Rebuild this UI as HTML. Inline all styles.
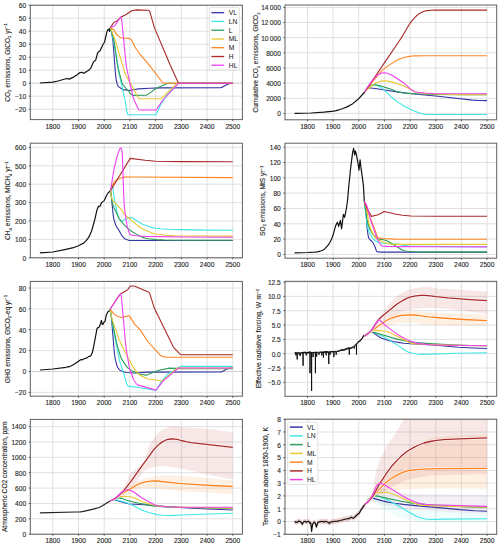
<!DOCTYPE html>
<html><head><meta charset="utf-8"><style>html,body{margin:0;padding:0;background:#fff;width:500px;height:546px;overflow:hidden}svg{display:block}</style></head>
<body>
<svg width="500" height="546" viewBox="0 0 500 546">
<rect width="500" height="546" fill="#fff"/>
<clipPath id="c1"><rect x="30.3" y="5.2" width="212.1" height="114.4"/></clipPath>
<path d="M52.8 5.2 V119.6 M78.5 5.2 V119.6 M104.2 5.2 V119.6 M129.9 5.2 V119.6 M155.6 5.2 V119.6 M181.3 5.2 V119.6 M207.1 5.2 V119.6 M232.8 5.2 V119.6 M30.3 109.2 H242.4 M30.3 96.2 H242.4 M30.3 83.2 H242.4 M30.3 70.2 H242.4 M30.3 57.2 H242.4 M30.3 44.2 H242.4 M30.3 31.2 H242.4 M30.3 18.2 H242.4 M30.3 5.2 H242.4" stroke="#dcdcdc" stroke-width="0.9" fill="none"/>
<path d="M30.3 83.2 H242.4" stroke="#b4b4b4" stroke-width="0.6" stroke-dasharray="1.2 1.0" fill="none"/>
<g clip-path="url(#c1)">
<path d="M39.9 83 L52.8 82.2 L57.9 81 L66.9 78.5 L69.2 79.1 L73.6 77.1 L77.2 74.8 L80 72.5 L81.6 72.3 L83.1 72.9 L84.2 73.2 L86 71.8 L87.5 71 L89.3 69.7 L90.8 68.2 L92.4 64.3 L93.7 61.7 L95.7 60.1 L97.4 53.6 L98.3 52 L100.1 50.7 L102.9 44.7 L104.6 42 L106.8 32.1 L107.8 29.6 L109 29.2 L109.5 31.5 L109.9 29.2 L110.5 27.3" fill="none" stroke="#111" stroke-width="1.2" stroke-linejoin="round" stroke-linecap="butt"/>
<path d="M110.5 27.3 L112.2 36.1 L113 41.7 L113.7 50.5 L115.4 72.9 L115.8 76.9 L116.3 80.3 L117.3 84.2 L118.1 86.1 L118.9 86.9 L122.2 89.3 L123.4 89.6 L129.9 90.5 L138.3 88.9 L150 88.3 L161 87.9 L220.5 87.7 L221.7 87.4 L226.2 84.9 L229.4 83.5 L230.6 83.2 L232.8 83.2" fill="none" stroke="#3535a5" stroke-width="1.1" stroke-linejoin="round" stroke-linecap="butt"/>
<path d="M110.5 27.3 L113.6 41.1 L119.4 74.8 L124.8 99.2 L127.1 112.5 L127.6 114.2 L128.1 114.7 L129 114.8 L154.7 114.8 L155.5 114.7 L155.9 114.6 L156.3 114.2 L156.8 113.3 L161 104.1 L167.2 94.4 L168.4 93.1 L177.4 84.3 L178.1 83.6 L178.8 83.3 L180.1 83.2 L232.8 83.2" fill="none" stroke="#3ee6e6" stroke-width="1.1" stroke-linejoin="round" stroke-linecap="butt"/>
<path d="M110.5 27.3 L113.2 37.3 L114 40.7 L117.3 63.8 L118.1 68.2 L121.8 82.4 L122.5 84 L123.2 85.2 L131 94 L131.9 94.9 L132.4 95.3 L133.7 95.4 L145.5 95.3 L146.5 95.2 L147.5 94.6 L156.3 88.3 L166.6 83.8 L168 83.4 L172 83.2 L232.8 83.2" fill="none" stroke="#2e9e5a" stroke-width="1.1" stroke-linejoin="round" stroke-linecap="butt"/>
<path d="M110.5 27.3 L115.3 40.9 L124.5 71.7 L125.6 74.8 L126.5 76.6 L132.2 86.3 L138 97.5 L138.5 98.3 L139 98.7 L140.1 98.8 L159.4 98.8 L160.9 98.7 L162.1 97.8 L176.1 84.1 L176.8 83.5 L177.5 83.2 L232.8 83.2" fill="none" stroke="#e6c832" stroke-width="1.1" stroke-linejoin="round" stroke-linecap="butt"/>
<path d="M110.5 27.3 L112.8 29 L113.6 29.7 L114.2 30.6 L116.2 33.9 L116.8 34.8 L120.5 37.6 L121.7 38 L129 38.4 L130.3 38.9 L131.3 39.7 L132.1 40.9 L135.1 47.3 L139.6 53.8 L149.5 65.3 L161.7 81.5 L162.3 82.2 L163 82.7 L165.3 83.1 L166.8 83.2 L232.8 83.2" fill="none" stroke="#ff8522" stroke-width="1.1" stroke-linejoin="round" stroke-linecap="butt"/>
<path d="M110.5 27.3 L113 23.6 L113.9 22.5 L114.5 22.1 L116 21.6 L116.7 21.2 L121.1 16.9 L125.7 14.8 L131.7 10.8 L132.9 10.5 L136.9 9.9 L147.9 10.3 L148.8 10.5 L149.5 11.1 L150 12.4 L153.8 25.7 L155.1 29.4 L170.3 65.2 L177.6 81.2 L178.1 82.2 L178.6 82.9 L179.2 83.1 L179.9 83.2 L232.8 83.2" fill="none" stroke="#a82a2a" stroke-width="1.1" stroke-linejoin="round" stroke-linecap="butt"/>
<path d="M110.5 27.3 L113.7 26.3 L114.6 25.7 L115.5 24.6 L120.3 17.5 L120.8 17.2 L121.2 17.7 L121.6 19.5 L122.1 23.6 L125.7 60.6 L126.2 64.8 L126.8 68.6 L129.7 82 L133.3 97.8 L134.2 100.2 L137.8 108 L138.4 109.2 L139 109.8 L140.1 110 L154.7 110 L155.5 109.9 L156 109.8 L156.9 108.8 L161.8 101.5 L163 100 L177.5 84.3 L178.3 83.6 L178.9 83.3 L232.8 83.2" fill="none" stroke="#f040f0" stroke-width="1.1" stroke-linejoin="round" stroke-linecap="butt"/>
</g>
<rect x="30.3" y="5.2" width="212.1" height="114.4" fill="none" stroke="#606060" stroke-width="1"/>
<path d="M52.8 119.6 v1.6 M78.5 119.6 v1.6 M104.2 119.6 v1.6 M129.9 119.6 v1.6 M155.6 119.6 v1.6 M181.3 119.6 v1.6 M207.1 119.6 v1.6 M232.8 119.6 v1.6 M30.3 109.2 h-1.6 M30.3 96.2 h-1.6 M30.3 83.2 h-1.6 M30.3 70.2 h-1.6 M30.3 57.2 h-1.6 M30.3 44.2 h-1.6 M30.3 31.2 h-1.6 M30.3 18.2 h-1.6 M30.3 5.2 h-1.6" stroke="#3a3a3a" stroke-width="0.8" fill="none"/>
<g font-family='"Liberation Sans", sans-serif' font-size="6.6" fill="#262626" stroke="#262626" stroke-width="0.12">
<text x="52.8" y="128.5" text-anchor="middle">1800</text>
<text x="78.5" y="128.5" text-anchor="middle">1900</text>
<text x="104.2" y="128.5" text-anchor="middle">2000</text>
<text x="129.9" y="128.5" text-anchor="middle">2100</text>
<text x="155.6" y="128.5" text-anchor="middle">2200</text>
<text x="181.3" y="128.5" text-anchor="middle">2300</text>
<text x="207.1" y="128.5" text-anchor="middle">2400</text>
<text x="232.8" y="128.5" text-anchor="middle">2500</text>
<text x="26.1" y="112" text-anchor="end">−20</text>
<text x="26.1" y="99" text-anchor="end">−10</text>
<text x="26.1" y="86" text-anchor="end">0</text>
<text x="26.1" y="73" text-anchor="end">10</text>
<text x="26.1" y="60" text-anchor="end">20</text>
<text x="26.1" y="47" text-anchor="end">30</text>
<text x="26.1" y="34" text-anchor="end">40</text>
<text x="26.1" y="21" text-anchor="end">50</text>
<text x="26.1" y="8" text-anchor="end">60</text>
</g>
<text transform="translate(9.6 62.6) rotate(-90)" text-anchor="middle" font-family='"Liberation Sans", sans-serif' font-size="6.7" fill="#262626" stroke="#262626" stroke-width="0.12" textLength="78.4" lengthAdjust="spacingAndGlyphs">CO<tspan font-size="4.3" dy="1.2">2</tspan><tspan dy="-1.2"> </tspan>emissions, GtCO<tspan font-size="4.3" dy="1.2">2</tspan><tspan dy="-1.2"> </tspan>yr<tspan font-size="4.3" dy="-2.2">−1</tspan></text>
<rect x="209.4" y="7.4" width="30.1" height="62.6" rx="1.5" fill="#fff" fill-opacity="0.85" stroke="#d8d8d8" stroke-width="0.7"/>
<path d="M211.4 12.7 H224.2" stroke="#3535a5" stroke-width="1.3"/>
<text x="228.8" y="15.1" font-family='"Liberation Sans", sans-serif' font-size="6.7" fill="#262626" stroke="#262626" stroke-width="0.05">VL</text>
<path d="M211.4 21.4 H224.2" stroke="#3ee6e6" stroke-width="1.3"/>
<text x="228.8" y="23.8" font-family='"Liberation Sans", sans-serif' font-size="6.7" fill="#262626" stroke="#262626" stroke-width="0.05">LN</text>
<path d="M211.4 30.2 H224.2" stroke="#2e9e5a" stroke-width="1.3"/>
<text x="228.8" y="32.6" font-family='"Liberation Sans", sans-serif' font-size="6.7" fill="#262626" stroke="#262626" stroke-width="0.05">L</text>
<path d="M211.4 39 H224.2" stroke="#e6c832" stroke-width="1.3"/>
<text x="228.8" y="41.4" font-family='"Liberation Sans", sans-serif' font-size="6.7" fill="#262626" stroke="#262626" stroke-width="0.05">ML</text>
<path d="M211.4 47.7 H224.2" stroke="#ff8522" stroke-width="1.3"/>
<text x="228.8" y="50.1" font-family='"Liberation Sans", sans-serif' font-size="6.7" fill="#262626" stroke="#262626" stroke-width="0.05">M</text>
<path d="M211.4 56.5 H224.2" stroke="#a82a2a" stroke-width="1.3"/>
<text x="228.8" y="58.9" font-family='"Liberation Sans", sans-serif' font-size="6.7" fill="#262626" stroke="#262626" stroke-width="0.05">H</text>
<path d="M211.4 65.2 H224.2" stroke="#f040f0" stroke-width="1.3"/>
<text x="228.8" y="67.6" font-family='"Liberation Sans", sans-serif' font-size="6.7" fill="#262626" stroke="#262626" stroke-width="0.05">HL</text>
<clipPath id="c2"><rect x="285" y="5" width="211.7" height="114.8"/></clipPath>
<path d="M307.5 5 V119.8 M333.1 5 V119.8 M358.8 5 V119.8 M384.4 5 V119.8 M410.1 5 V119.8 M435.8 5 V119.8 M461.4 5 V119.8 M487.1 5 V119.8 M285 113.4 H496.7 M285 98.3 H496.7 M285 83.1 H496.7 M285 68 H496.7 M285 52.8 H496.7 M285 37.7 H496.7 M285 22.5 H496.7 M285 7.4 H496.7" stroke="#dcdcdc" stroke-width="0.9" fill="none"/>
<g clip-path="url(#c2)">
<path d="M294.6 113.4 L311 113 L323.9 112.2 L329 111.7 L333.4 111.2 L336.2 110.6 L339 109.8 L342.9 108.5 L347 106.9 L349.5 105.6 L352.4 103.9 L355.7 101.3 L358.5 98.9 L364.7 92" fill="none" stroke="#111" stroke-width="1.2" stroke-linejoin="round" stroke-linecap="butt"/>
<path d="M364.7 92 L366.5 89.8 L368 88.5 L369.3 88 L370.8 88 L377 88.8 L386.2 90.3 L398.5 92.1 L411.4 93.7 L438.1 96.2 L472.7 100.1 L477.6 100.4 L487.1 100.6" fill="none" stroke="#3535a5" stroke-width="1.1" stroke-linejoin="round" stroke-linecap="butt"/>
<path d="M364.7 92 L366.2 89.3 L367.2 87.8 L368.3 86.6 L369 86 L371.3 85.3 L373.7 84.9 L375.2 85 L377 85.6 L380.1 86.9 L382.4 88.4 L384.9 90.6 L391.1 96.7 L393.7 99 L399.1 102.9 L403.9 106 L408.6 108.6 L414.2 111 L419.6 113 L423.7 114 L426.5 114.4 L434 114.5 L487.1 114.5" fill="none" stroke="#3ee6e6" stroke-width="1.1" stroke-linejoin="round" stroke-linecap="butt"/>
<path d="M364.7 92 L367.8 88.5 L370.1 86.5 L371.3 85.6 L372.4 85.1 L373.4 84.9 L374.4 84.8 L377 85.1 L380.1 85.8 L389.1 88.6 L396.2 91.2 L399.3 92.1 L402.1 92.7 L406.2 93.1 L416.5 93.8 L433.4 94.4 L459.9 94.7 L487.1 94.8" fill="none" stroke="#2e9e5a" stroke-width="1.1" stroke-linejoin="round" stroke-linecap="butt"/>
<path d="M364.7 92 L367.5 89.3 L370.3 86.8 L372.9 84.9 L375.5 83.3 L377.8 82.2 L380.1 81.3 L382.4 80.9 L384.4 80.8 L387.8 81.1 L391.6 81.9 L395.5 83.1 L403.2 85.7 L406.2 87 L414.5 91.5 L416.8 92.3 L418.8 92.8 L426.5 93.6 L434.7 94 L461.7 94.6 L487.1 94.8" fill="none" stroke="#e6c832" stroke-width="1.1" stroke-linejoin="round" stroke-linecap="butt"/>
<path d="M364.7 92 L369 86.1 L373.4 80.6 L379.3 73.6 L382.6 70.1 L386.5 66.9 L390.6 64.1 L397.5 60 L399.8 58.9 L402.1 58 L406.2 57 L409.6 56.4 L412.4 56 L415.5 55.9 L425 55.7 L487.1 55.7" fill="none" stroke="#ff8522" stroke-width="1.1" stroke-linejoin="round" stroke-linecap="butt"/>
<path d="M364.7 92 L383.7 63.9 L399.1 41.3 L403.4 34.6 L408 26.4 L410.1 23.2 L412.7 19.9 L415 17.3 L416.8 15.5 L418.6 14.1 L422.2 12.1 L425 11 L426.8 10.6 L431.4 10.2 L435 10.1 L487.1 10.1" fill="none" stroke="#a82a2a" stroke-width="1.1" stroke-linejoin="round" stroke-linecap="butt"/>
<path d="M364.7 92 L367.5 87.3 L370.1 83.4 L372.6 80.1 L375.2 77.3 L377.5 75.3 L379.8 73.8 L382.1 73 L384.2 72.8 L386.2 73 L388.5 73.7 L390.9 74.7 L393.7 76.3 L404.2 83.3 L406 84.8 L410.4 88.9 L412.1 90.3 L413.9 91.4 L415.5 92 L424.2 93 L433.2 93.5 L487.1 93.7" fill="none" stroke="#f040f0" stroke-width="1.1" stroke-linejoin="round" stroke-linecap="butt"/>
</g>
<rect x="285" y="5" width="211.7" height="114.8" fill="none" stroke="#606060" stroke-width="1"/>
<path d="M307.5 119.8 v1.6 M333.1 119.8 v1.6 M358.8 119.8 v1.6 M384.4 119.8 v1.6 M410.1 119.8 v1.6 M435.8 119.8 v1.6 M461.4 119.8 v1.6 M487.1 119.8 v1.6 M285 113.4 h-1.6 M285 98.3 h-1.6 M285 83.1 h-1.6 M285 68 h-1.6 M285 52.8 h-1.6 M285 37.7 h-1.6 M285 22.5 h-1.6 M285 7.4 h-1.6" stroke="#3a3a3a" stroke-width="0.8" fill="none"/>
<g font-family='"Liberation Sans", sans-serif' font-size="6.6" fill="#262626" stroke="#262626" stroke-width="0.12">
<text x="307.5" y="128.7" text-anchor="middle">1800</text>
<text x="333.1" y="128.7" text-anchor="middle">1900</text>
<text x="358.8" y="128.7" text-anchor="middle">2000</text>
<text x="384.4" y="128.7" text-anchor="middle">2100</text>
<text x="410.1" y="128.7" text-anchor="middle">2200</text>
<text x="435.8" y="128.7" text-anchor="middle">2300</text>
<text x="461.4" y="128.7" text-anchor="middle">2400</text>
<text x="487.1" y="128.7" text-anchor="middle">2500</text>
<text x="280.8" y="116.2" text-anchor="end">0</text>
<text x="280.8" y="101.1" text-anchor="end">2000</text>
<text x="280.8" y="85.9" text-anchor="end">4000</text>
<text x="280.8" y="70.8" text-anchor="end">6000</text>
<text x="280.8" y="55.6" text-anchor="end">8000</text>
<text x="280.8" y="40.5" text-anchor="end">10 000</text>
<text x="280.8" y="25.3" text-anchor="end">12 000</text>
<text x="280.8" y="10.2" text-anchor="end">14 000</text>
</g>
<text transform="translate(258.3 62.5) rotate(-90)" text-anchor="middle" font-family='"Liberation Sans", sans-serif' font-size="6.7" fill="#262626" stroke="#262626" stroke-width="0.12" textLength="100" lengthAdjust="spacingAndGlyphs">Cumulative CO<tspan font-size="4.3" dy="1.2">2</tspan><tspan dy="-1.2"> </tspan>emissions, GtCO<tspan font-size="4.3" dy="1.2">2</tspan></text>
<clipPath id="c3"><rect x="30.3" y="143.2" width="212.1" height="114.6"/></clipPath>
<path d="M52.8 143.2 V257.8 M78.5 143.2 V257.8 M104.2 143.2 V257.8 M129.9 143.2 V257.8 M155.6 143.2 V257.8 M181.3 143.2 V257.8 M207.1 143.2 V257.8 M232.8 143.2 V257.8 M30.3 257.8 H242.4 M30.3 239.4 H242.4 M30.3 221 H242.4 M30.3 202.6 H242.4 M30.3 184.2 H242.4 M30.3 165.8 H242.4 M30.3 147.4 H242.4" stroke="#dcdcdc" stroke-width="0.9" fill="none"/>
<g clip-path="url(#c3)">
<path d="M39.9 252.9 L52.8 252 L65.9 249.3 L73.4 247.7 L79 245.5 L83.6 243.1 L86 240.9 L88.8 237.2 L91.4 231.5 L92.9 226.5 L95.1 218.4 L96.9 210.1 L97.8 207.8 L98.7 206.1 L99.3 206.6 L100.1 206.1 L100.9 204.1 L101.9 202.4 L104.2 200.6 L105.2 198.6 L106 196.5 L107.9 193.2 L110.6 190.5" fill="none" stroke="#111" stroke-width="1.2" stroke-linejoin="round" stroke-linecap="butt"/>
<path d="M110.6 190.5 L111.6 199.3 L113.2 215.1 L113.9 219.2 L115 223 L116.2 226.2 L119.1 230.4 L121.9 235.7 L122.7 236.7 L124.2 238.2 L125.2 239 L126.3 239.5 L128.1 240.1 L129.6 240.4 L232.8 240.5" fill="none" stroke="#3535a5" stroke-width="1.1" stroke-linejoin="round" stroke-linecap="butt"/>
<path d="M110.6 190.5 L111.1 188.2 L111.6 187 L112.1 186.5 L112.7 186.4 L112.9 187 L114 197.1 L117.8 215.3 L118.3 217.1 L118.8 218.3 L120.4 220.4 L121.4 221.1 L121.9 221.2 L122.7 220.9 L124.7 219.5 L128.1 217.8 L129.4 217.5 L130.9 217.6 L132.4 218.1 L134.2 219 L140.2 222.9 L142 223.9 L146.1 225.6 L150.2 227 L153.3 227.9 L155.6 228.3 L160 228.7 L169.2 229.3 L179.5 229.6 L207.5 230.1 L232.8 230.2" fill="none" stroke="#3ee6e6" stroke-width="1.1" stroke-linejoin="round" stroke-linecap="butt"/>
<path d="M110.6 190.5 L111.9 200.1 L112.4 202.8 L113.2 205.4 L114.2 208.1 L117.8 215.7 L119.1 218.2 L120.4 220.2 L122.2 222.6 L124.2 224.9 L127 227.7 L129.6 229.9 L131.9 231.5 L136.8 234.4 L139.9 236.1 L142.7 237.4 L145.6 238.3 L148.1 238.8 L156.4 239.6 L164.1 240 L188.7 240.2 L232.8 240.3" fill="none" stroke="#2e9e5a" stroke-width="1.1" stroke-linejoin="round" stroke-linecap="butt"/>
<path d="M110.6 190.5 L111.4 197.3 L112.4 199.7 L113.4 201.1 L115 202.6 L116.5 204.4 L121.1 209.4 L122.2 210.8 L124.2 214.3 L125 215.2 L126.3 216.3 L129.9 218.8 L137.1 225.1 L139.9 227.2 L141.4 228.2 L145.6 230.3 L150.7 232.6 L154 233.7 L157.1 234.2 L166.1 235.2 L174.6 235.8 L191.6 236 L232.8 236.1" fill="none" stroke="#e6c832" stroke-width="1.1" stroke-linejoin="round" stroke-linecap="butt"/>
<path d="M110.6 190.5 L112.9 184.4 L113.9 182.5 L115 181.2 L116.8 179.8 L118.6 178.9 L122.2 177.6 L124.7 177.1 L131.9 177 L232.8 177.6" fill="none" stroke="#ff8522" stroke-width="1.1" stroke-linejoin="round" stroke-linecap="butt"/>
<path d="M110.6 190.5 L130.2 158.4 L145.3 160.3 L155.6 161.2 L181.3 161.6 L232.8 161.8" fill="none" stroke="#a82a2a" stroke-width="1.1" stroke-linejoin="round" stroke-linecap="butt"/>
<path d="M110.6 190.5 L113.2 173.8 L114.2 168.5 L116 160.5 L117.3 155.6 L118.3 152.6 L119.8 149 L120.4 148.2 L120.9 148 L121.1 148.2 L121.6 149.6 L122 150.7 L122.2 152.5 L122.7 163.6 L123.7 194.9 L124.1 203 L124.7 209.8 L125.8 218.1 L127 225.2 L128.3 230.2 L129.4 233.1 L130.1 234.6 L130.4 234.8 L131.9 235.1 L136.3 235.8 L140.4 236.2 L145.6 236.4 L186.7 237 L232.8 237.2" fill="none" stroke="#f040f0" stroke-width="1.1" stroke-linejoin="round" stroke-linecap="butt"/>
</g>
<rect x="30.3" y="143.2" width="212.1" height="114.6" fill="none" stroke="#606060" stroke-width="1"/>
<path d="M52.8 257.8 v1.6 M78.5 257.8 v1.6 M104.2 257.8 v1.6 M129.9 257.8 v1.6 M155.6 257.8 v1.6 M181.3 257.8 v1.6 M207.1 257.8 v1.6 M232.8 257.8 v1.6 M30.3 257.8 h-1.6 M30.3 239.4 h-1.6 M30.3 221 h-1.6 M30.3 202.6 h-1.6 M30.3 184.2 h-1.6 M30.3 165.8 h-1.6 M30.3 147.4 h-1.6" stroke="#3a3a3a" stroke-width="0.8" fill="none"/>
<g font-family='"Liberation Sans", sans-serif' font-size="6.6" fill="#262626" stroke="#262626" stroke-width="0.12">
<text x="52.8" y="266.7" text-anchor="middle">1800</text>
<text x="78.5" y="266.7" text-anchor="middle">1900</text>
<text x="104.2" y="266.7" text-anchor="middle">2000</text>
<text x="129.9" y="266.7" text-anchor="middle">2100</text>
<text x="155.6" y="266.7" text-anchor="middle">2200</text>
<text x="181.3" y="266.7" text-anchor="middle">2300</text>
<text x="207.1" y="266.7" text-anchor="middle">2400</text>
<text x="232.8" y="266.7" text-anchor="middle">2500</text>
<text x="26.1" y="260.6" text-anchor="end">0</text>
<text x="26.1" y="242.2" text-anchor="end">100</text>
<text x="26.1" y="223.8" text-anchor="end">200</text>
<text x="26.1" y="205.4" text-anchor="end">300</text>
<text x="26.1" y="187" text-anchor="end">400</text>
<text x="26.1" y="168.6" text-anchor="end">500</text>
<text x="26.1" y="150.2" text-anchor="end">600</text>
</g>
<text transform="translate(10.4 200.7) rotate(-90)" text-anchor="middle" font-family='"Liberation Sans", sans-serif' font-size="6.7" fill="#262626" stroke="#262626" stroke-width="0.12" textLength="78.8" lengthAdjust="spacingAndGlyphs">CH<tspan font-size="4.3" dy="1.2">4</tspan><tspan dy="-1.2"> </tspan>emissions, MtCH<tspan font-size="4.3" dy="1.2">4</tspan><tspan dy="-1.2"> </tspan>yr<tspan font-size="4.3" dy="-2.2">−1</tspan></text>
<clipPath id="c4"><rect x="285" y="143.2" width="211.7" height="115"/></clipPath>
<path d="M307.5 143.2 V258.2 M333.1 143.2 V258.2 M358.8 143.2 V258.2 M384.4 143.2 V258.2 M410.1 143.2 V258.2 M435.8 143.2 V258.2 M461.4 143.2 V258.2 M487.1 143.2 V258.2 M285 254.4 H496.7 M285 239.1 H496.7 M285 223.8 H496.7 M285 208.5 H496.7 M285 193.1 H496.7 M285 177.8 H496.7 M285 162.5 H496.7 M285 147.2 H496.7" stroke="#dcdcdc" stroke-width="0.9" fill="none"/>
<g clip-path="url(#c4)">
<path d="M294.6 252.8 L308 252.5 L314.6 252.1 L317.2 251.8 L319.3 251.4 L321.3 250.8 L322.8 250.2 L323.9 249.5 L324.9 248.6 L327.5 245.9 L329 243.8 L330.5 241.2 L331.6 239 L332.6 236.3 L334.1 231.3 L335.6 225.8 L337.4 222.2 L338.6 226.4 L340.4 220.4 L341.6 228.8 L343.4 214.4 L344.6 217.4 L346.4 208.5 L347.6 200 L348.5 189.3 L350.6 168.3 L352.6 152.6 L353.6 148.3 L354.7 154.9 L355.4 151 L356 152.6 L358 163.3 L359 170.2 L360.1 159.8 L360.8 166.3 L363.4 185.1 L364.3 201.6" fill="none" stroke="#111" stroke-width="1.2" stroke-linejoin="round" stroke-linecap="butt"/>
<path d="M364.3 201.6 L364.5 202.1 L365.1 204.6 L366 211.5 L367.1 228 L367.9 234.1 L368.4 237 L368.9 238.3 L369.7 239.5 L372 241.5 L373.3 243.3 L374.8 246.3 L376.4 250.7 L376.6 251.2 L377 251.6 L378.7 251.9 L380.6 252.1 L487.1 252.1" fill="none" stroke="#3535a5" stroke-width="1.1" stroke-linejoin="round" stroke-linecap="butt"/>
<path d="M364.3 201.6 L365.6 213.1 L366.6 221 L367.6 226.9 L368.4 229.8 L369.2 231.9 L370.2 234.2 L372 237.2 L373.5 239 L375.1 240.5 L376.6 241.6 L377.9 242.3 L380.2 242.9 L382.5 243.3 L395.9 244 L398.7 244.4 L406.1 245.6 L409.7 246 L445.6 246.6 L487.1 246.7" fill="none" stroke="#3ee6e6" stroke-width="1.1" stroke-linejoin="round" stroke-linecap="butt"/>
<path d="M364.3 201.6 L366.6 216.5 L367.6 222 L368.4 225.3 L369.2 227.6 L370.4 230.2 L372.2 233.3 L373.8 235.5 L375.6 237.4 L377.4 238.6 L378.4 239.1 L379.4 239.3 L384.7 240 L386.9 240.8 L389.2 242 L401 249.2 L403.6 250.5 L405.3 251 L407.7 251.3 L414.1 251.8 L420.2 252.1 L487.1 252.1" fill="none" stroke="#2e9e5a" stroke-width="1.1" stroke-linejoin="round" stroke-linecap="butt"/>
<path d="M364.3 201.6 L365.3 204.1 L366.3 207.8 L368.4 220.6 L369.2 224.3 L370.7 228.6 L372.2 232.3 L374.3 236.1 L375.3 237.5 L376.4 238.6 L377.6 239.5 L379.4 240.6 L383 242.1 L385.8 243 L390 243.9 L392.5 244.3 L394.6 244.4 L487.1 244.4" fill="none" stroke="#e6c832" stroke-width="1.1" stroke-linejoin="round" stroke-linecap="butt"/>
<path d="M364.3 201.6 L368.4 213.2 L374.6 229 L376.6 234.9 L377.6 237.1 L378.1 237.7 L378.5 237.9 L382.8 238.5 L394.6 239.1 L487.1 239.2" fill="none" stroke="#ff8522" stroke-width="1.1" stroke-linejoin="round" stroke-linecap="butt"/>
<path d="M364.3 201.6 L367.8 210 L371.5 216.4 L378.1 214.8 L384.4 211.5 L395 214 L402.4 215.3 L410.9 216 L435.8 216.3 L487.1 216.3" fill="none" stroke="#a82a2a" stroke-width="1.1" stroke-linejoin="round" stroke-linecap="butt"/>
<path d="M364.3 201.6 L365.1 202.4 L365.8 203.6 L366.9 206 L367.9 209.2 L371.2 221.6 L374.6 231.6 L376.4 236.5 L377.9 240 L379.9 243.6 L381 245.1 L382 246 L383.5 246.2 L388.2 246.4 L401.5 246.6 L442.6 246.8 L487.1 246.9" fill="none" stroke="#f040f0" stroke-width="1.1" stroke-linejoin="round" stroke-linecap="butt"/>
</g>
<rect x="285" y="143.2" width="211.7" height="115" fill="none" stroke="#606060" stroke-width="1"/>
<path d="M307.5 258.2 v1.6 M333.1 258.2 v1.6 M358.8 258.2 v1.6 M384.4 258.2 v1.6 M410.1 258.2 v1.6 M435.8 258.2 v1.6 M461.4 258.2 v1.6 M487.1 258.2 v1.6 M285 254.4 h-1.6 M285 239.1 h-1.6 M285 223.8 h-1.6 M285 208.5 h-1.6 M285 193.1 h-1.6 M285 177.8 h-1.6 M285 162.5 h-1.6 M285 147.2 h-1.6" stroke="#3a3a3a" stroke-width="0.8" fill="none"/>
<g font-family='"Liberation Sans", sans-serif' font-size="6.6" fill="#262626" stroke="#262626" stroke-width="0.12">
<text x="307.5" y="267.1" text-anchor="middle">1800</text>
<text x="333.1" y="267.1" text-anchor="middle">1900</text>
<text x="358.8" y="267.1" text-anchor="middle">2000</text>
<text x="384.4" y="267.1" text-anchor="middle">2100</text>
<text x="410.1" y="267.1" text-anchor="middle">2200</text>
<text x="435.8" y="267.1" text-anchor="middle">2300</text>
<text x="461.4" y="267.1" text-anchor="middle">2400</text>
<text x="487.1" y="267.1" text-anchor="middle">2500</text>
<text x="280.8" y="257.2" text-anchor="end">0</text>
<text x="280.8" y="241.9" text-anchor="end">20</text>
<text x="280.8" y="226.6" text-anchor="end">40</text>
<text x="280.8" y="211.3" text-anchor="end">60</text>
<text x="280.8" y="195.9" text-anchor="end">80</text>
<text x="280.8" y="180.6" text-anchor="end">100</text>
<text x="280.8" y="165.3" text-anchor="end">120</text>
<text x="280.8" y="150" text-anchor="end">140</text>
</g>
<text transform="translate(265 200.8) rotate(-90)" text-anchor="middle" font-family='"Liberation Sans", sans-serif' font-size="6.7" fill="#262626" stroke="#262626" stroke-width="0.12" textLength="70.3" lengthAdjust="spacingAndGlyphs">SO<tspan font-size="4.3" dy="1.2">2</tspan><tspan dy="-1.2"> </tspan>emissions, MtS yr<tspan font-size="4.3" dy="-2.2">−1</tspan></text>
<clipPath id="c5"><rect x="30.3" y="281.4" width="212.1" height="114.8"/></clipPath>
<path d="M52.8 281.4 V396.2 M78.5 281.4 V396.2 M104.2 281.4 V396.2 M129.9 281.4 V396.2 M155.6 281.4 V396.2 M181.3 281.4 V396.2 M207.1 281.4 V396.2 M232.8 281.4 V396.2 M30.3 392.4 H242.4 M30.3 371.5 H242.4 M30.3 350.6 H242.4 M30.3 329.7 H242.4 M30.3 308.9 H242.4 M30.3 288 H242.4" stroke="#dcdcdc" stroke-width="0.9" fill="none"/>
<path d="M30.3 371.5 H242.4" stroke="#b4b4b4" stroke-width="0.6" stroke-dasharray="1.2 1.0" fill="none"/>
<g clip-path="url(#c5)">
<path d="M39.9 370 L52.8 369 L65.9 367.3 L67.7 366.7 L68.7 366.9 L70.3 366.3 L73.4 364.7 L75.9 363.1 L81.1 359.5 L82.4 359.8 L83.6 359 L87 357.9 L88.8 356.4 L90.1 356.4 L91.4 354.8 L92.4 352.2 L93.4 348 L97 328.7 L97.8 327.7 L98.6 327.7 L99.8 325.6 L100.6 323.5 L101.4 320.3 L102.2 324.5 L102.9 324.5 L103.7 322.4 L105 321.4 L106.3 315.1 L108.1 311.5 L109.4 310.9 L110.1 309.4" fill="none" stroke="#111" stroke-width="1.2" stroke-linejoin="round" stroke-linecap="butt"/>
<path d="M110.1 309.2 L111.2 316.4 L111.7 321 L114 348.8 L114.5 353.9 L115 357.5 L116.2 363.1 L117.1 366.1 L117.7 367.3 L119.1 369.4 L119.8 370.1 L120.4 370.5 L125.7 372.5 L134.8 373 L148.7 372.1 L220.5 372 L221.3 371.9 L222 371.7 L227.2 368.8 L232.8 367.8" fill="none" stroke="#3535a5" stroke-width="1.1" stroke-linejoin="round" stroke-linecap="butt"/>
<path d="M110.1 309.2 L111.9 320.8 L115.4 340.1 L119.4 360 L120.2 362.9 L122.7 370.7 L126.6 383.2 L127.4 385.2 L127.7 385.8 L128.1 386.1 L140.2 387.7 L155 390.1 L155.9 390.1 L156.3 389.8 L156.8 389.1 L161 382.1 L167.3 374.7 L168.5 373.8 L179 367.2 L179.9 366.7 L180.6 366.4 L232.8 366.4" fill="none" stroke="#3ee6e6" stroke-width="1.1" stroke-linejoin="round" stroke-linecap="butt"/>
<path d="M110.1 309.2 L112.1 320.8 L116.4 342.2 L117.6 346.6 L120.9 357.6 L122.1 359.9 L127 367.1 L128.1 368.1 L133.3 371.6 L139.9 374.3 L146.4 375.1 L147.5 374.8 L157.9 370.5 L169.3 368.1 L181.9 368.6 L232.8 368.8" fill="none" stroke="#2e9e5a" stroke-width="1.1" stroke-linejoin="round" stroke-linecap="butt"/>
<path d="M110.1 309.2 L111.5 316.7 L112.3 319.9 L119.1 339.4 L120.4 342.4 L128.4 358.4 L134.3 368.9 L135.7 370.9 L139.2 374.5 L140.1 375.2 L146.9 378.6 L148 379.1 L149.1 379.3 L161.4 380.8 L162.6 380.7 L163.7 379.9 L176.5 368.7 L177.1 368.3 L177.7 368.1 L232.8 368" fill="none" stroke="#e6c832" stroke-width="1.1" stroke-linejoin="round" stroke-linecap="butt"/>
<path d="M110.1 309.2 L113.9 313.8 L116.2 315.7 L117.3 316.3 L121.1 317.3 L122 317.4 L122.9 317.3 L128.4 315.9 L128.9 315.9 L129.4 316.1 L130.2 317.1 L134.6 324.1 L139.3 328.8 L140.2 329.9 L147.7 341.5 L159.9 354.8 L160.6 355.6 L161.3 356 L165.3 357.1 L166.7 357.3 L232.8 357.3" fill="none" stroke="#ff8522" stroke-width="1.1" stroke-linejoin="round" stroke-linecap="butt"/>
<path d="M110.1 309.2 L116.6 299.2 L120.4 294.1 L121.3 293.4 L127.2 290.1 L128 289.3 L129.7 286.8 L130.4 286.1 L131.1 286 L133.5 286 L134.9 286.3 L148.3 292 L148.9 292.4 L149.3 292.8 L150.1 294.6 L153.7 306.2 L154.9 309.3 L172.6 345.6 L173.4 347 L174 347.8 L180.3 354.4 L181 354.7 L181.9 354.8 L232.8 354.8" fill="none" stroke="#a82a2a" stroke-width="1.1" stroke-linejoin="round" stroke-linecap="butt"/>
<path d="M110.1 309.2 L119.9 294.5 L120.4 294 L120.7 294.1 L120.8 294.3 L121.2 296 L121.7 300.3 L125.6 343.9 L126.5 350.5 L128.8 364.7 L129.3 367.2 L129.9 369.5 L133.4 379.3 L134.2 380.7 L136.2 383.5 L137 384.4 L137.6 384.9 L154.9 389.9 L155.5 390.1 L156 390 L156.9 389.2 L161.8 382.6 L163 381.2 L177.5 368.8 L178.3 368.3 L178.9 368 L232.8 368" fill="none" stroke="#f040f0" stroke-width="1.1" stroke-linejoin="round" stroke-linecap="butt"/>
</g>
<rect x="30.3" y="281.4" width="212.1" height="114.8" fill="none" stroke="#606060" stroke-width="1"/>
<path d="M52.8 396.2 v1.6 M78.5 396.2 v1.6 M104.2 396.2 v1.6 M129.9 396.2 v1.6 M155.6 396.2 v1.6 M181.3 396.2 v1.6 M207.1 396.2 v1.6 M232.8 396.2 v1.6 M30.3 392.4 h-1.6 M30.3 371.5 h-1.6 M30.3 350.6 h-1.6 M30.3 329.7 h-1.6 M30.3 308.9 h-1.6 M30.3 288 h-1.6" stroke="#3a3a3a" stroke-width="0.8" fill="none"/>
<g font-family='"Liberation Sans", sans-serif' font-size="6.6" fill="#262626" stroke="#262626" stroke-width="0.12">
<text x="52.8" y="405.1" text-anchor="middle">1800</text>
<text x="78.5" y="405.1" text-anchor="middle">1900</text>
<text x="104.2" y="405.1" text-anchor="middle">2000</text>
<text x="129.9" y="405.1" text-anchor="middle">2100</text>
<text x="155.6" y="405.1" text-anchor="middle">2200</text>
<text x="181.3" y="405.1" text-anchor="middle">2300</text>
<text x="207.1" y="405.1" text-anchor="middle">2400</text>
<text x="232.8" y="405.1" text-anchor="middle">2500</text>
<text x="26.1" y="395.2" text-anchor="end">−20</text>
<text x="26.1" y="374.3" text-anchor="end">0</text>
<text x="26.1" y="353.4" text-anchor="end">20</text>
<text x="26.1" y="332.5" text-anchor="end">40</text>
<text x="26.1" y="311.7" text-anchor="end">60</text>
<text x="26.1" y="290.8" text-anchor="end">80</text>
</g>
<text transform="translate(9.6 339) rotate(-90)" text-anchor="middle" font-family='"Liberation Sans", sans-serif' font-size="6.7" fill="#262626" stroke="#262626" stroke-width="0.12" textLength="88.1" lengthAdjust="spacingAndGlyphs">GHG emissions, GtCO<tspan font-size="4.3" dy="1.2">2</tspan><tspan dy="-1.2">-eq yr</tspan><tspan font-size="4.3" dy="-2.2">−1</tspan></text>
<clipPath id="c6"><rect x="285" y="281.3" width="211.7" height="115"/></clipPath>
<path d="M307.5 281.3 V396.3 M333.1 281.3 V396.3 M358.8 281.3 V396.3 M384.4 281.3 V396.3 M410.1 281.3 V396.3 M435.8 281.3 V396.3 M461.4 281.3 V396.3 M487.1 281.3 V396.3 M285 382.3 H496.7 M285 368 H496.7 M285 353.7 H496.7 M285 339.4 H496.7 M285 325 H496.7 M285 310.7 H496.7 M285 296.4 H496.7 M285 282.1 H496.7" stroke="#dcdcdc" stroke-width="0.9" fill="none"/>
<g clip-path="url(#c6)">
<path d="M369 331.4 L374.4 323.5 L379.6 316.5 L390.1 303.1 L393.9 298.7 L396.8 296.2 L400.1 294 L405 291.4 L409.6 289.6 L413.2 288.5 L419.3 287.4 L423.4 286.8 L427 286.7 L429.3 286.9 L435 288.1 L439.6 288.5 L487.1 291.4 L487.1 313.8 L467.1 311.2 L445.3 308.8 L436.8 308.1 L430.9 307.9 L425.5 308 L418.8 308.5 L411.4 309.4 L407 310.3 L402.4 311.5 L397.5 313.2 L394.7 314.6 L391.1 316.9 L379.8 324.9 L369 333.1 Z" fill="#c83a3a" fill-opacity="0.12" stroke="none"/>
<path d="M369 331.4 L376.7 325.7 L385.7 319.6 L392.1 315 L395.2 313.3 L396.8 312.7 L398 312.4 L407.3 311.5 L415.7 311.3 L429.3 312.2 L448.3 313.1 L487.1 314.6 L487.1 325.8 L457.3 325.6 L429.9 325 L426.3 324.7 L418.8 323.2 L415.5 322.8 L397.5 322.8 L395.7 323 L393.9 323.6 L384.9 327.7 L369 333.1 Z" fill="#ff8522" fill-opacity="0.12" stroke="none"/>
<path d="M328 350.5 L334.1 349.8 L341.1 348.7 L349.3 347 L352.6 345.8 L358.8 339.9 L364.2 333.9 L368.8 330.4 L371.6 327.7 L375.5 323.1 L379.3 317.6 L379.3 321.6 L374.4 327.7 L369.6 333.1 L364.4 337.9 L357.7 344.9 L355.7 346.8 L353.1 348.7 L351.6 349.4 L348.8 350 L336.7 352.2 L328 353.4 Z" fill="#e070a0" fill-opacity="0.12" stroke="none"/>
<path d="M294.6 353 L294.9 353.2 L295.1 352.9 L295.4 352.2 L295.6 353.2 L295.9 355.4 L296.2 352.6 L296.4 352.4 L296.7 353.3 L297 352.8 L297.2 359.4 L297.3 352.8 L297.4 352.7 L297.7 353.3 L298.2 352.2 L298.5 353 L298.7 353.2 L299 352.6 L299.2 354.8 L299.5 353.3 L300 352.5 L300.3 356 L300.5 353.4 L300.8 352.6 L301 352.4 L301.3 352.5 L301.6 353.4 L301.8 352.2 L302.3 352.7 L302.6 353.3 L302.8 352 L302.9 352.7 L303.1 365.7 L303.2 352.7 L303.6 353.1 L303.9 351.8 L304.1 353 L304.4 352.8 L304.6 352.9 L304.9 351.8 L305.1 353.2 L305.4 352.6 L305.7 352.6 L305.9 351.9 L306.2 355.4 L306.4 352.4 L306.7 352.5 L306.9 352.1 L307.2 353.5 L307.5 352.1 L307.7 352.4 L308 352.3 L308.2 353.4 L308.5 351.8 L308.7 352.5 L309 352.5 L309.2 353.2 L309.5 351.7 L309.8 352.7 L309.9 352.5 L310 373.2 L310.2 352.5 L310.3 352.9 L310.5 351.6 L310.8 352.9 L311.4 352.5 L311.6 390.9 L311.7 352.5 L311.8 353.1 L312.1 352.5 L312.6 352 L312.8 353.2 L313.1 357.1 L313.4 352.1 L313.6 352.2 L313.9 353.1 L314.1 352.1 L314.4 352.1 L314.9 352.9 L315.2 351.9 L315.3 352.4 L315.4 373.2 L315.6 352.4 L315.7 352.8 L315.9 352.6 L316.2 351.8 L316.4 352.3 L316.7 356.6 L316.9 352.3 L317.2 351.9 L317.7 352.8 L318 351.9 L318.2 352.1 L318.5 352.6 L318.7 352.7 L319 354.8 L319.3 352.3 L319.5 352.6 L319.8 352.5 L320 351.6 L320.3 352.6 L320.5 352.5 L320.8 352.2 L321.1 351.6 L321.3 352.9 L321.6 352.3 L321.8 355.4 L322.1 351.7 L322.3 353 L322.6 352 L323.1 351.9 L323.2 352.2 L323.4 357.7 L323.6 351.6 L323.9 352.1 L324.1 352.1 L324.4 352.9 L324.6 351.3 L324.9 352.2 L325.2 352.2 L325.4 352.6 L325.7 351.2 L325.9 352.5 L326.2 355.4 L326.4 352.4 L326.7 351.2 L327 352.7 L327.2 352.1 L327.5 352.1 L327.7 351.3 L328 352.8 L328.2 351.8 L328.6 352 L328.8 364 L328.9 352 L329 352.8 L329.3 351.5 L329.5 351.8 L329.8 351.7 L330 354.8 L330.3 351.3 L330.5 351.8 L330.8 351.9 L331.1 352.4 L331.3 351.1 L331.6 351.9 L332.1 352.1 L332.3 351 L332.6 352.1 L332.9 352 L333.1 351.7 L333.4 351.1 L333.6 352.2 L333.7 351.7 L333.9 357.1 L334 351.7 L334.1 351.4 L334.4 351.3 L334.7 352.2 L335.2 351.1 L335.7 352 L335.9 351.3 L336 351.4 L336.2 354.8 L336.3 351.4 L336.4 351.7 L336.7 351.7 L337 351 L337.2 350.9 L337.5 351.7 L338 350.7 L338.2 350.8 L338.5 351.6 L338.8 350.7 L339 350.5 L339.5 351.4 L339.8 350.1 L340.6 351 L340.8 349.7 L341.1 350.5 L341.6 350.6 L341.8 349.4 L342.1 350.6 L342.4 350.2 L342.6 350.1 L342.9 349.2 L343.1 350.6 L343.4 349.8 L343.6 349.7 L343.9 349.1 L344.1 350.5 L344.4 349.2 L344.7 349.3 L344.9 349 L345.2 350.2 L345.4 348.7 L345.7 349.1 L345.9 349 L346.2 349.8 L346.5 348.2 L346.7 349 L347 348.9 L347.2 349.3 L347.5 347.8 L347.7 349 L348 348.7 L348.3 348.8 L348.5 347.6 L348.8 349 L349.1 348.4 L349.3 354.6 L349.5 347.6 L349.8 349 L350 348.1 L350.6 347.7 L350.8 348.8 L351.1 347.6 L351.6 347.7 L351.8 348.4 L352.1 347.1 L352.9 347.6 L353.1 346.3 L353.6 346.9 L353.9 346.5 L354.2 348.5 L354.4 346.1 L354.7 346 L355.2 344.8 L355.4 345.4 L355.7 345.2 L356 344.1 L356.3 344 L356.5 354.6 L356.6 344 L357 342.9 L357.2 343.3 L357.5 343.3 L358 341.8 L358.3 342.4 L358.5 342.1 L359 340.9 L359.3 341.9 L359.5 341 L360.1 340.3 L360.3 341.2 L360.6 339.8 L361.1 339.5 L361.3 340.1 L361.6 338.4 L361.9 338.7 L362.1 338.4 L362.4 338.5 L362.6 336.7 L362.9 337.3 L363.1 336.9 L363.4 336.8 L363.6 335.2 L363.9 336.4 L364.2 335.9 L364.4 335.8" fill="none" stroke="#111" stroke-width="1" stroke-linejoin="round" stroke-linecap="butt"/>
<path d="M364.4 335.9 L366.5 333.8 L368 332.6 L369.3 332 L370.6 332 L372.1 332.3 L373.7 333 L379.6 337.1 L381.9 338.3 L386.2 339.7 L390.3 340.9 L394.4 341.8 L398.3 342.4 L403.9 343.2 L410.4 343.8 L432.7 345 L458.6 347.2 L473.5 348 L487.1 348.5" fill="none" stroke="#3535a5" stroke-width="1.1" stroke-linejoin="round" stroke-linecap="butt"/>
<path d="M364.4 335.9 L367.2 333.2 L368.3 332.5 L369.3 332 L370.1 331.9 L371.6 332 L374.7 332.8 L377.2 333.8 L382.6 336.2 L386 337.9 L399.6 346.6 L405 350.2 L407.5 351.7 L409.1 352.4 L410.6 352.8 L417 354 L420.1 354.3 L422.9 354.4 L456.3 353.2 L487.1 352.7" fill="none" stroke="#3ee6e6" stroke-width="1.1" stroke-linejoin="round" stroke-linecap="butt"/>
<path d="M364.4 335.9 L366.7 333.7 L368.3 332.5 L369.6 332 L371.1 332 L373.1 332.2 L375.5 332.8 L397 339.1 L406.5 341.2 L413.4 342.4 L419.3 342.9 L426 343.4 L451.2 344.8 L470.4 345.5 L487.1 345.8" fill="none" stroke="#2e9e5a" stroke-width="1.1" stroke-linejoin="round" stroke-linecap="butt"/>
<path d="M364.4 335.9 L366.5 334.2 L368.3 332.9 L371.3 331.3 L372.9 330.6 L374.4 330.4 L379.8 330.6 L385.7 331.3 L388.5 332.1 L391.1 333.2 L407.8 341.8 L410.9 343 L413.4 343.6 L423.4 344.3 L448.3 345.1 L469.1 345.6 L487.1 345.8" fill="none" stroke="#e6c832" stroke-width="1.1" stroke-linejoin="round" stroke-linecap="butt"/>
<path d="M364.4 335.9 L376.7 327.2 L384.7 321.7 L387.5 320 L389.8 318.8 L395.2 316.9 L398.8 316 L401.9 315.4 L408.6 315 L413.7 315 L418.1 315.4 L428.8 316.9 L441.9 318 L464 319.5 L487.1 320.7" fill="none" stroke="#fff" stroke-width="2.5" stroke-linejoin="round" stroke-opacity="0.8"/>
<path d="M364.4 335.9 L376.7 327.2 L384.7 321.7 L387.5 320 L389.8 318.8 L395.2 316.9 L398.8 316 L401.9 315.4 L408.6 315 L413.7 315 L418.1 315.4 L428.8 316.9 L441.9 318 L464 319.5 L487.1 320.7" fill="none" stroke="#ff8522" stroke-width="1.3" stroke-linejoin="round" stroke-linecap="butt"/>
<path d="M364.4 335.9 L365.7 335.3 L367.2 334.3 L369 332.9 L370.6 331.4 L372.6 328.7 L376.2 322.8 L377.8 320.6 L379.6 318.5 L382.4 315.9 L389.8 310 L395.2 305.4 L397.5 303.7 L401.9 301 L404.7 299.4 L407.3 298.2 L409.8 297.2 L414.5 296.2 L418.1 295.6 L421.1 295.4 L424.2 295.4 L430.4 295.9 L436 296.7 L447.8 297.9 L469.9 299.6 L487.1 300.7" fill="none" stroke="#fff" stroke-width="2.5" stroke-linejoin="round" stroke-opacity="0.8"/>
<path d="M364.4 335.9 L365.7 335.3 L367.2 334.3 L369 332.9 L370.6 331.4 L372.6 328.7 L376.2 322.8 L377.8 320.6 L379.6 318.5 L382.4 315.9 L389.8 310 L395.2 305.4 L397.5 303.7 L401.9 301 L404.7 299.4 L407.3 298.2 L409.8 297.2 L414.5 296.2 L418.1 295.6 L421.1 295.4 L424.2 295.4 L430.4 295.9 L436 296.7 L447.8 297.9 L469.9 299.6 L487.1 300.7" fill="none" stroke="#a82a2a" stroke-width="1.3" stroke-linejoin="round" stroke-linecap="butt"/>
<path d="M364.4 335.9 L370.1 331.9 L378.8 319.6 L379.8 320.2 L385.7 325.6 L393.2 331.4 L398 334.8 L405 338.8 L410.9 341.4 L417.8 343.4 L429.9 344.8 L448.6 345.2 L487.1 345.8" fill="none" stroke="#f040f0" stroke-width="1.1" stroke-linejoin="round" stroke-linecap="butt"/>
</g>
<rect x="285" y="281.3" width="211.7" height="115" fill="none" stroke="#606060" stroke-width="1"/>
<path d="M307.5 396.3 v1.6 M333.1 396.3 v1.6 M358.8 396.3 v1.6 M384.4 396.3 v1.6 M410.1 396.3 v1.6 M435.8 396.3 v1.6 M461.4 396.3 v1.6 M487.1 396.3 v1.6 M285 382.3 h-1.6 M285 368 h-1.6 M285 353.7 h-1.6 M285 339.4 h-1.6 M285 325 h-1.6 M285 310.7 h-1.6 M285 296.4 h-1.6 M285 282.1 h-1.6" stroke="#3a3a3a" stroke-width="0.8" fill="none"/>
<g font-family='"Liberation Sans", sans-serif' font-size="6.6" fill="#262626" stroke="#262626" stroke-width="0.12">
<text x="307.5" y="405.2" text-anchor="middle">1800</text>
<text x="333.1" y="405.2" text-anchor="middle">1900</text>
<text x="358.8" y="405.2" text-anchor="middle">2000</text>
<text x="384.4" y="405.2" text-anchor="middle">2100</text>
<text x="410.1" y="405.2" text-anchor="middle">2200</text>
<text x="435.8" y="405.2" text-anchor="middle">2300</text>
<text x="461.4" y="405.2" text-anchor="middle">2400</text>
<text x="487.1" y="405.2" text-anchor="middle">2500</text>
<text x="280.8" y="385.1" text-anchor="end">−5.0</text>
<text x="280.8" y="370.8" text-anchor="end">−2.5</text>
<text x="280.8" y="356.5" text-anchor="end">0.0</text>
<text x="280.8" y="342.2" text-anchor="end">2.5</text>
<text x="280.8" y="327.8" text-anchor="end">5.0</text>
<text x="280.8" y="313.5" text-anchor="end">7.5</text>
<text x="280.8" y="299.2" text-anchor="end">10.0</text>
<text x="280.8" y="284.9" text-anchor="end">12.5</text>
</g>
<text transform="translate(261.4 338.7) rotate(-90)" text-anchor="middle" font-family='"Liberation Sans", sans-serif' font-size="6.7" fill="#262626" stroke="#262626" stroke-width="0.12" textLength="99.2" lengthAdjust="spacingAndGlyphs">Effective radiative forcing, W m<tspan font-size="4.3" dy="-2.2">−2</tspan></text>
<clipPath id="c7"><rect x="30.3" y="419.4" width="212.1" height="114.8"/></clipPath>
<path d="M52.8 419.4 V534.2 M78.5 419.4 V534.2 M104.2 419.4 V534.2 M129.9 419.4 V534.2 M155.6 419.4 V534.2 M181.3 419.4 V534.2 M207.1 419.4 V534.2 M232.8 419.4 V534.2 M30.3 534.2 H242.4 M30.3 518.8 H242.4 M30.3 503.5 H242.4 M30.3 488.1 H242.4 M30.3 472.7 H242.4 M30.3 457.3 H242.4 M30.3 442 H242.4 M30.3 426.6 H242.4" stroke="#dcdcdc" stroke-width="0.9" fill="none"/>
<g clip-path="url(#c7)">
<path d="M113.2 499.6 L115 498.5 L117.1 496.8 L119.6 494.2 L120.9 492.6 L123.2 488.5 L128.9 476.8 L130.4 474.2 L131.7 472.4 L134.3 470 L140.5 466 L142 464.5 L143.3 463 L144.1 461.5 L145.1 458.9 L149.2 446 L150.2 443.5 L151.3 441.7 L153.6 438.2 L156.1 435 L160 431.6 L163.1 429.4 L164.9 428.6 L169.8 426.9 L172.6 426.3 L174.9 426.2 L183.4 427.3 L202.7 428.5 L210.6 429.3 L220.9 430.6 L232.8 432.5 L232.8 479.5 L212.2 475.4 L185.2 469.3 L173.1 467.2 L167.7 466.4 L163.6 466.2 L159.7 466.3 L155.1 467 L151.8 467.6 L149.2 468.4 L146.4 469.8 L143.5 471.6 L142 473.3 L138.7 478.9 L137.1 480.9 L134.6 483.7 L129.4 488.6 L123.8 494.3 L121.4 496.2 L119.6 497.3 L116 498.9 L113.2 499.6 Z" fill="#c83a3a" fill-opacity="0.12" stroke="none"/>
<path d="M113.2 499.6 L116.8 498.2 L120.7 495.8 L123 493.7 L129.2 487.2 L133.5 483.7 L136.6 481.6 L140.5 480 L145.1 478.5 L149.2 477.6 L156.4 476.3 L161.3 475.6 L165.4 475.4 L172.9 475.5 L183.4 475.9 L190.3 476.4 L205.8 478 L232.8 480.4 L232.8 494 L187.3 491.6 L178.5 490.9 L161.5 489 L150.2 488.3 L142.8 488.1 L140.7 488.4 L138.4 489.4 L131.2 493.6 L122.2 498.1 L120.4 498.7 L118.1 499.1 L115.5 499.5 L113.2 499.6 Z" fill="#ff8522" fill-opacity="0.12" stroke="none"/>
<path d="M39.9 512.9 L75.4 512 L80.6 511.8 L83.4 511.4 L93.4 509.2 L96.8 508.2 L99.6 507.2 L102.4 505.8 L110 501" fill="none" stroke="#222" stroke-width="1.2" stroke-linejoin="round" stroke-linecap="butt"/>
<path d="M110 501 L112.1 499.9 L112.8 499.7 L113.9 499.6 L115.9 500.1 L126.2 503.3 L128.3 503.8 L129.9 504 L144.2 504.7 L166 506.6 L183.5 507.8 L207.9 509 L232.8 510" fill="none" stroke="#3535a5" stroke-width="1.1" stroke-linejoin="round" stroke-linecap="butt"/>
<path d="M110 501 L112.1 499.9 L112.8 499.7 L113.6 499.6 L116.2 499.9 L121.8 501.3 L126.2 502.6 L130.8 504.4 L133.4 505.6 L140.1 509.3 L142.1 510.2 L144.2 510.9 L149.6 512.7 L154.2 513.9 L158.1 514.7 L162.4 515.2 L167.3 515.5 L171.4 515.6 L181 515 L201.3 514.2 L232.8 513.2" fill="none" stroke="#3ee6e6" stroke-width="1.1" stroke-linejoin="round" stroke-linecap="butt"/>
<path d="M110 501 L116.4 498.4 L118 498 L119.3 497.9 L120.5 498.1 L122.1 498.4 L128.8 500.9 L134.2 502.2 L151.4 505.6 L158.1 506.5 L165.8 506.9 L203.1 508 L232.8 508.5" fill="none" stroke="#2e9e5a" stroke-width="1.1" stroke-linejoin="round" stroke-linecap="butt"/>
<path d="M110 501 L113.6 499.5 L117.5 497.1 L119 496.4 L120.8 496.3 L125.9 496.5 L130.3 496.8 L132.4 497.2 L134.7 498.1 L140.3 500.8 L142.6 501.7 L152.7 504.8 L156 505.6 L159.1 506.1 L168.9 506.7 L183.3 507.2 L232.8 508.1" fill="none" stroke="#e6c832" stroke-width="1.1" stroke-linejoin="round" stroke-linecap="butt"/>
<path d="M110 501 L112.1 500.2 L114.1 499.2 L116.2 497.8 L120.8 494.4 L124.4 492.1 L128.3 489.9 L138 484.4 L140.3 483.4 L142.4 482.7 L147 481.7 L150.6 481.1 L153.7 480.9 L157 481 L178.9 483.3 L189.4 484.1 L210.8 485.5 L232.8 486.5" fill="none" stroke="#fff" stroke-width="2.5" stroke-linejoin="round" stroke-opacity="0.8"/>
<path d="M110 501 L112.1 500.2 L114.1 499.2 L116.2 497.8 L120.8 494.4 L124.4 492.1 L128.3 489.9 L138 484.4 L140.3 483.4 L142.4 482.7 L147 481.7 L150.6 481.1 L153.7 480.9 L157 481 L178.9 483.3 L189.4 484.1 L210.8 485.5 L232.8 486.5" fill="none" stroke="#ff8522" stroke-width="1.3" stroke-linejoin="round" stroke-linecap="butt"/>
<path d="M110 501 L113.1 499.7 L115.9 497.9 L119.3 495.1 L122.6 491.8 L126.5 487.2 L130.6 481.9 L142.1 465.6 L147.3 458.7 L151.4 452.8 L153.2 450.4 L156.5 446.8 L159.6 443.9 L162.4 441.9 L165.5 440.2 L167.1 439.7 L170.7 439 L172.5 438.9 L175 439.1 L177.4 439.4 L181 440.5 L185.8 441.7 L191 442.6 L232.8 447.4" fill="none" stroke="#fff" stroke-width="2.5" stroke-linejoin="round" stroke-opacity="0.8"/>
<path d="M110 501 L113.1 499.7 L115.9 497.9 L119.3 495.1 L122.6 491.8 L126.5 487.2 L130.6 481.9 L142.1 465.6 L147.3 458.7 L151.4 452.8 L153.2 450.4 L156.5 446.8 L159.6 443.9 L162.4 441.9 L165.5 440.2 L167.1 439.7 L170.7 439 L172.5 438.9 L175 439.1 L177.4 439.4 L181 440.5 L185.8 441.7 L191 442.6 L232.8 447.4" fill="none" stroke="#a82a2a" stroke-width="1.3" stroke-linejoin="round" stroke-linecap="butt"/>
<path d="M110 501 L113.1 499.7 L114.9 498.6 L116.7 497 L121.3 492.5 L123.4 490.8 L125.2 489.9 L125.9 489.7 L127 489.7 L130.3 490.3 L132.4 491.2 L134.9 492.8 L141.6 497.7 L149.3 502.1 L152.2 503.6 L154.7 504.8 L156.8 505.5 L158.8 506 L168.1 506.7 L178.4 507.1 L232.8 507.3" fill="none" stroke="#f040f0" stroke-width="1.1" stroke-linejoin="round" stroke-linecap="butt"/>
</g>
<rect x="30.3" y="419.4" width="212.1" height="114.8" fill="none" stroke="#606060" stroke-width="1"/>
<path d="M52.8 534.2 v1.6 M78.5 534.2 v1.6 M104.2 534.2 v1.6 M129.9 534.2 v1.6 M155.6 534.2 v1.6 M181.3 534.2 v1.6 M207.1 534.2 v1.6 M232.8 534.2 v1.6 M30.3 534.2 h-1.6 M30.3 518.8 h-1.6 M30.3 503.5 h-1.6 M30.3 488.1 h-1.6 M30.3 472.7 h-1.6 M30.3 457.3 h-1.6 M30.3 442 h-1.6 M30.3 426.6 h-1.6" stroke="#3a3a3a" stroke-width="0.8" fill="none"/>
<g font-family='"Liberation Sans", sans-serif' font-size="6.6" fill="#262626" stroke="#262626" stroke-width="0.12">
<text x="52.8" y="543.1" text-anchor="middle">1800</text>
<text x="78.5" y="543.1" text-anchor="middle">1900</text>
<text x="104.2" y="543.1" text-anchor="middle">2000</text>
<text x="129.9" y="543.1" text-anchor="middle">2100</text>
<text x="155.6" y="543.1" text-anchor="middle">2200</text>
<text x="181.3" y="543.1" text-anchor="middle">2300</text>
<text x="207.1" y="543.1" text-anchor="middle">2400</text>
<text x="232.8" y="543.1" text-anchor="middle">2500</text>
<text x="26.1" y="537" text-anchor="end">0</text>
<text x="26.1" y="521.6" text-anchor="end">200</text>
<text x="26.1" y="506.3" text-anchor="end">400</text>
<text x="26.1" y="490.9" text-anchor="end">600</text>
<text x="26.1" y="475.5" text-anchor="end">800</text>
<text x="26.1" y="460.1" text-anchor="end">1000</text>
<text x="26.1" y="444.8" text-anchor="end">1200</text>
<text x="26.1" y="429.4" text-anchor="end">1400</text>
</g>
<text transform="translate(7.4 476.8) rotate(-90)" text-anchor="middle" font-family='"Liberation Sans", sans-serif' font-size="6.7" fill="#262626" stroke="#262626" stroke-width="0.12" textLength="110.6" lengthAdjust="spacingAndGlyphs">Atmospheric CO2 concentration, ppm</text>
<clipPath id="c8"><rect x="285" y="419.2" width="211.7" height="115.1"/></clipPath>
<path d="M307.5 419.2 V534.3 M333.1 419.2 V534.3 M358.8 419.2 V534.3 M384.4 419.2 V534.3 M410.1 419.2 V534.3 M435.8 419.2 V534.3 M461.4 419.2 V534.3 M487.1 419.2 V534.3 M285 534.3 H496.7 M285 521.5 H496.7 M285 508.7 H496.7 M285 495.9 H496.7 M285 483.1 H496.7 M285 470.4 H496.7 M285 457.6 H496.7 M285 444.8 H496.7 M285 432 H496.7 M285 419.2 H496.7" stroke="#dcdcdc" stroke-width="0.9" fill="none"/>
<g clip-path="url(#c8)">
<path d="M364.9 504.4 L365.7 504.2 L366.5 503.7 L368 501.9 L369.8 498.6 L371.9 494 L372.9 489.6 L375.5 474.3 L376.5 469.7 L378 464.9 L379.6 460.7 L381.4 456.6 L383.4 452.4 L387.5 445 L395.7 432.9 L401.1 423.8 L403.2 420.6 L405.2 418.2 L412.1 412 L418.1 407.3 L423.2 403.9 L425.7 402.5 L428.1 401.6 L430.4 400.8 L432.7 400.3 L435.8 400 L487.1 400 L487.1 474.2 L460.9 474.5 L433.7 475.6 L428.3 476.1 L422.4 476.9 L416 478.1 L409.3 479.5 L404.5 481 L398.8 483.4 L393.2 486.2 L379.8 493.3 L375.2 496 L371.3 498.7 L368.5 501 L364.9 504.4 Z" fill="#c83a3a" fill-opacity="0.12" stroke="none"/>
<path d="M364.9 504.4 L369 499.4 L372.6 494.4 L380.6 481.1 L383.4 476.8 L388.5 470.4 L393.9 464.3 L400.1 458 L406 452.9 L409.1 450.6 L414.7 446.8 L422.2 442.1 L426 440.1 L429.3 438.7 L432.4 437.7 L435.5 437.1 L448.3 436 L461.2 435.2 L474.2 434.7 L487.1 434.5 L487.1 488.9 L463.5 488.6 L430.9 488.5 L409.8 488.9 L403.4 489.4 L397.8 490.3 L391.1 491.7 L383.2 493.7 L378.3 495.3 L374.4 497 L370.8 499 L368.3 501 L364.9 504.4 Z" fill="#ff8522" fill-opacity="0.12" stroke="none"/>
<path d="M364.9 504.4 L367.8 501.1 L371.1 496.7 L372.4 494.6 L374.9 489.6 L375.7 488.6 L376.5 488.3 L380.3 488.5 L385.5 489 L402.4 493 L406 493.6 L409.1 494 L422.9 494.3 L487.1 494.9 L487.1 513.8 L464.5 512.9 L438.1 511.4 L418.8 510.2 L406.2 509.1 L395 507.6 L384.4 505.5 L381.9 504.7 L375.5 501.8 L373.7 501.3 L372.1 501.1 L370.6 501.2 L369 501.7 L367.2 502.7 L364.9 504.4 Z" fill="#8a7a9a" fill-opacity="0.11" stroke="none"/>
<path d="M364.9 504.4 L367.5 500.5 L369.3 498.4 L370.8 497.4 L372.4 497.2 L374.7 497.6 L377.2 498.4 L382.9 500.5 L388.5 502.5 L401.4 507.4 L405.2 508.5 L408.6 509.2 L418.3 509.9 L435 510.6 L487.1 513.2 L487.1 522.8 L433.2 522.8 L424.5 522.2 L413.9 520.8 L408.3 519.9 L403.9 518.8 L398.8 516.9 L392.9 514.3 L383.7 509.6 L381.6 508 L376.2 503.1 L374.7 502.1 L373.1 501.3 L371.3 501.1 L369.3 501.5 L367.2 502.6 L364.9 504.4 Z" fill="#3ee6e6" fill-opacity="0.08" stroke="none"/>
<path d="M294.6 519 L295.4 519.8 L295.9 520 L297.2 519.6 L298.5 518.6 L300 518.8 L301 519.6 L302.1 521.6 L302.3 521.8 L302.6 521.5 L303.3 519.6 L303.6 519.2 L304.1 518.9 L304.9 518.7 L306.2 519.7 L307.5 519 L308.5 518.7 L309 518.8 L309.5 519.6 L310 520.9 L310.8 520.2 L311.6 528.8 L311.8 527.8 L312.6 521.5 L313.4 520.1 L313.9 519.7 L314.4 519.6 L315.2 520.2 L316.2 524.1 L316.4 524.5 L316.7 524 L317.7 520 L318.7 519.4 L320.3 519.2 L321.3 518.7 L322.1 518.8 L324.1 519.3 L325.2 518.8 L326.2 518.8 L328 519.6 L329 520.8 L329.3 520.9 L330.5 519.6 L331.3 519.3 L333.4 518.9 L338 518.4 L345.4 516.5 L349 516.1 L349.5 515.9 L350.6 514.8 L351.1 514.6 L351.6 514.8 L352.9 515.6 L353.4 515.6 L354.9 514.5 L356.7 512.6 L359.3 510.5 L361.9 506 L364.9 501.8 L364.9 506.9 L361.9 511.1 L359.3 515.6 L356.7 517.7 L354.9 519.6 L353.4 520.7 L352.9 520.7 L351.6 519.9 L351.1 519.7 L350.6 519.9 L349.5 521 L349 521.3 L345.4 521.6 L338 523.6 L333.4 524 L331.3 524.4 L330.5 524.7 L329.3 526 L329 525.9 L328 524.7 L326.2 523.9 L325.2 523.9 L324.1 524.5 L322.1 523.9 L321.3 523.9 L320.3 524.3 L318.7 524.5 L317.7 525.1 L316.7 529.1 L316.4 529.6 L316.2 529.2 L315.2 525.3 L314.4 524.8 L313.9 524.8 L313.4 525.2 L312.6 526.6 L311.8 532.9 L311.6 533.9 L310.8 525.3 L310 526 L309.5 524.7 L309 524 L308.5 523.8 L307.5 524.1 L306.2 524.8 L304.9 523.8 L304.1 524 L303.6 524.3 L303.3 524.7 L302.6 526.6 L302.3 526.9 L302.1 526.7 L301 524.7 L300 523.9 L298.5 523.7 L297.2 524.7 L295.9 525.1 L295.4 524.9 L294.6 524.1 Z" fill="#a82a2a" fill-opacity="0.22" stroke="none"/>
<path d="M294.6 521.5 L295.9 522.5 L297.2 522.2 L298.5 521.1 L299.8 521.3 L301 522.2 L302.3 524.3 L303.6 521.8 L304.9 521.3 L306.2 522.3 L307.5 521.5 L308.7 521.3 L309.5 522.2 L310 523.4 L310.8 522.8 L311.6 531.4 L312.6 524.1 L314.1 522.2 L315.2 522.8 L316.4 527 L317.7 522.5 L319 521.9 L320.3 521.8 L321.6 521.3 L324.1 521.9 L325.4 521.3 L328 522.2 L329.3 523.4 L330.5 522.2 L333.1 521.5 L337.2 521.1 L340.3 520.5 L345.9 519 L349 518.7 L351.1 517.2 L353.1 518.2 L354.9 517 L356.7 515.1 L359.2 513.2 L361.3 509.4 L364.9 504.4" fill="none" stroke="#111" stroke-width="1.2" stroke-linejoin="round" stroke-linecap="butt"/>
<path d="M364.9 504.4 L366.7 501.5 L368.5 499.4 L369.6 498.5 L370.3 498.1 L371.1 497.9 L371.9 497.9 L382.6 500.9 L387.8 502.1 L394.7 503.3 L403.4 504.4 L418.1 505.9 L444.2 508.1 L459.6 509.6 L474.5 510.7 L487.1 511.3" fill="none" stroke="#3535a5" stroke-width="1.1" stroke-linejoin="round" stroke-linecap="butt"/>
<path d="M364.9 504.4 L367.8 500.5 L369.3 498.9 L370.6 497.9 L372.6 496.7 L373.9 496.1 L374.9 495.9 L376.2 496 L378.3 496.4 L380.6 497.2 L387.5 500 L390.6 501.5 L397.5 505.2 L407.8 511.5 L416.8 516.5 L419.3 517.5 L424.2 518.7 L427.8 519.3 L430.9 519.5 L445 519.1 L487.1 518.8" fill="none" stroke="#3ee6e6" stroke-width="1.1" stroke-linejoin="round" stroke-linecap="butt"/>
<path d="M364.9 504.4 L367.5 500.8 L368.8 499.4 L370.1 498.3 L371.3 497.4 L373.4 496.3 L374.4 496 L375.5 495.9 L377.5 496.1 L379.8 496.5 L388.3 498.6 L401.1 501.2 L410.9 502.9 L417 503.7 L429.3 504.8 L444.2 505.7 L468.1 506.9 L487.1 507.4" fill="none" stroke="#2e9e5a" stroke-width="1.1" stroke-linejoin="round" stroke-linecap="butt"/>
<path d="M364.9 504.4 L367 501.3 L369.3 498.4 L372.9 494.6 L374.2 493.5 L374.9 493.2 L379 492.8 L382.6 492.5 L386.5 492.5 L388.8 492.8 L391.9 493.7 L398.5 496.3 L407.5 500.5 L414.5 503.3 L417.8 504.5 L420.4 505.1 L426.5 505.5 L435 505.9 L466.3 506.8 L487.1 507.2" fill="none" stroke="#e6c832" stroke-width="1.1" stroke-linejoin="round" stroke-linecap="butt"/>
<path d="M364.9 504.4 L372.4 497.1 L382.4 485.9 L384.4 484 L388 481 L391.9 478.1 L395.5 475.9 L401.6 472.9 L406.2 471.2 L409.3 470.5 L416.5 469.6 L422.9 469.1 L430.9 468.8 L440.4 468.6 L487.1 468.4" fill="none" stroke="#fff" stroke-width="2.5" stroke-linejoin="round" stroke-opacity="0.8"/>
<path d="M364.9 504.4 L372.4 497.1 L382.4 485.9 L384.4 484 L388 481 L391.9 478.1 L395.5 475.9 L401.6 472.9 L406.2 471.2 L409.3 470.5 L416.5 469.6 L422.9 469.1 L430.9 468.8 L440.4 468.6 L487.1 468.4" fill="none" stroke="#ff8522" stroke-width="1.3" stroke-linejoin="round" stroke-linecap="butt"/>
<path d="M364.9 504.4 L366.7 503 L368.5 501.4 L370.6 499.1 L372.4 496.8 L374.4 493.5 L379 484.9 L382.4 479.6 L387.8 471.4 L390.1 468.3 L392.1 465.7 L398 459.4 L400.9 456.6 L403.4 454.3 L405.7 452.5 L408 450.8 L413.4 447.6 L418.8 445 L424 443 L430.1 441.5 L436.8 440.4 L443.7 439.7 L453.5 439.1 L472.5 438.3 L487.1 437.9" fill="none" stroke="#fff" stroke-width="2.5" stroke-linejoin="round" stroke-opacity="0.8"/>
<path d="M364.9 504.4 L366.7 503 L368.5 501.4 L370.6 499.1 L372.4 496.8 L374.4 493.5 L379 484.9 L382.4 479.6 L387.8 471.4 L390.1 468.3 L392.1 465.7 L398 459.4 L400.9 456.6 L403.4 454.3 L405.7 452.5 L408 450.8 L413.4 447.6 L418.8 445 L424 443 L430.1 441.5 L436.8 440.4 L443.7 439.7 L453.5 439.1 L472.5 438.3 L487.1 437.9" fill="none" stroke="#a82a2a" stroke-width="1.3" stroke-linejoin="round" stroke-linecap="butt"/>
<path d="M364.9 504.4 L366.5 503 L368.3 501.1 L370.1 498.8 L371.9 496.2 L373.1 493.6 L375.7 487.5 L377 485.2 L377.5 484.6 L378.5 483.9 L379.3 483.5 L379.9 483.4 L381.9 483.7 L384.2 484.8 L392.1 489.4 L401.4 495.2 L408.8 499.2 L413.9 501.5 L417.8 502.9 L420.4 503.6 L425.7 504.4 L431.4 504.8 L487.1 506.4" fill="none" stroke="#f040f0" stroke-width="1.1" stroke-linejoin="round" stroke-linecap="butt"/>
</g>
<rect x="285" y="419.2" width="211.7" height="115.1" fill="none" stroke="#606060" stroke-width="1"/>
<path d="M307.5 534.3 v1.6 M333.1 534.3 v1.6 M358.8 534.3 v1.6 M384.4 534.3 v1.6 M410.1 534.3 v1.6 M435.8 534.3 v1.6 M461.4 534.3 v1.6 M487.1 534.3 v1.6 M285 534.3 h-1.6 M285 521.5 h-1.6 M285 508.7 h-1.6 M285 495.9 h-1.6 M285 483.1 h-1.6 M285 470.4 h-1.6 M285 457.6 h-1.6 M285 444.8 h-1.6 M285 432 h-1.6 M285 419.2 h-1.6" stroke="#3a3a3a" stroke-width="0.8" fill="none"/>
<g font-family='"Liberation Sans", sans-serif' font-size="6.6" fill="#262626" stroke="#262626" stroke-width="0.12">
<text x="307.5" y="543.2" text-anchor="middle">1800</text>
<text x="333.1" y="543.2" text-anchor="middle">1900</text>
<text x="358.8" y="543.2" text-anchor="middle">2000</text>
<text x="384.4" y="543.2" text-anchor="middle">2100</text>
<text x="410.1" y="543.2" text-anchor="middle">2200</text>
<text x="435.8" y="543.2" text-anchor="middle">2300</text>
<text x="461.4" y="543.2" text-anchor="middle">2400</text>
<text x="487.1" y="543.2" text-anchor="middle">2500</text>
<text x="280.8" y="537.1" text-anchor="end">−1</text>
<text x="280.8" y="524.3" text-anchor="end">0</text>
<text x="280.8" y="511.5" text-anchor="end">1</text>
<text x="280.8" y="498.7" text-anchor="end">2</text>
<text x="280.8" y="485.9" text-anchor="end">3</text>
<text x="280.8" y="473.2" text-anchor="end">4</text>
<text x="280.8" y="460.4" text-anchor="end">5</text>
<text x="280.8" y="447.6" text-anchor="end">6</text>
<text x="280.8" y="434.8" text-anchor="end">7</text>
<text x="280.8" y="422" text-anchor="end">8</text>
</g>
<text transform="translate(268 476.6) rotate(-90)" text-anchor="middle" font-family='"Liberation Sans", sans-serif' font-size="6.7" fill="#262626" stroke="#262626" stroke-width="0.12" textLength="99" lengthAdjust="spacingAndGlyphs">Temperature above 1850-1900, K</text>
<rect x="287.6" y="422.3" width="30.2" height="62.1" rx="1.5" fill="#fff" fill-opacity="0.85" stroke="#d8d8d8" stroke-width="0.7"/>
<path d="M289.9 427.1 H302.7" stroke="#3535a5" stroke-width="1.5"/>
<text x="307" y="429.5" font-family='"Liberation Sans", sans-serif' font-size="6.7" fill="#262626" stroke="#262626" stroke-width="0.05">VL</text>
<path d="M289.9 435.9 H302.7" stroke="#3ee6e6" stroke-width="1.5"/>
<text x="307" y="438.2" font-family='"Liberation Sans", sans-serif' font-size="6.7" fill="#262626" stroke="#262626" stroke-width="0.05">LN</text>
<path d="M289.9 444.6 H302.7" stroke="#2e9e5a" stroke-width="1.5"/>
<text x="307" y="447" font-family='"Liberation Sans", sans-serif' font-size="6.7" fill="#262626" stroke="#262626" stroke-width="0.05">L</text>
<path d="M289.9 453.4 H302.7" stroke="#e6c832" stroke-width="1.5"/>
<text x="307" y="455.8" font-family='"Liberation Sans", sans-serif' font-size="6.7" fill="#262626" stroke="#262626" stroke-width="0.05">ML</text>
<path d="M289.9 462.1 H302.7" stroke="#ff8522" stroke-width="1.5"/>
<text x="307" y="464.5" font-family='"Liberation Sans", sans-serif' font-size="6.7" fill="#262626" stroke="#262626" stroke-width="0.05">M</text>
<path d="M289.9 470.9 H302.7" stroke="#a82a2a" stroke-width="1.5"/>
<text x="307" y="473.2" font-family='"Liberation Sans", sans-serif' font-size="6.7" fill="#262626" stroke="#262626" stroke-width="0.05">H</text>
<path d="M289.9 479.6 H302.7" stroke="#f040f0" stroke-width="1.5"/>
<text x="307" y="482" font-family='"Liberation Sans", sans-serif' font-size="6.7" fill="#262626" stroke="#262626" stroke-width="0.05">HL</text>
</svg>
</body></html>
